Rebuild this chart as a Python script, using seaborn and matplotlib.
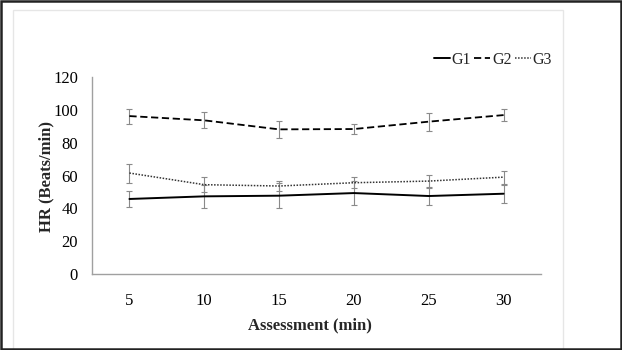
import numpy as np
import pandas as pd
import matplotlib
matplotlib.use("Agg")
import matplotlib.pyplot as plt
from matplotlib.lines import Line2D
from matplotlib.patches import Rectangle
import seaborn as sns

minutes = [5, 10, 15, 20, 25, 30]
groups = ["G1", "G2", "G3"]
g1_mean = [45.7, 47.3, 47.7, 49.3, 47.5, 48.9]
g1_err = [5.0, 7.0, 7.5, 7.5, 5.5, 5.5]
g2_mean = [96.2, 93.6, 88.1, 88.3, 92.8, 96.8]
g2_err = [4.6, 4.9, 5.0, 3.0, 5.4, 3.7]
g3_mean = [61.5, 54.4, 53.6, 55.6, 56.6, 59.0]
g3_err = [5.8, 4.5, 3.0, 3.3, 4.0, 4.0]
yticks = [0, 20, 40, 60, 80, 100, 120]

means = {"G1": g1_mean, "G2": g2_mean, "G3": g3_mean}
errs = {"G1": g1_err, "G2": g2_err, "G3": g3_err}

df = pd.DataFrame({
    "minute": minutes * 3,
    "group": [g for g in groups for _ in minutes],
    "hr": g1_mean + g2_mean + g3_mean,
})

sns.set_theme(style="white")
plt.rcParams["font.family"] = ["Liberation Serif", "DejaVu Serif"]

fig = plt.figure(figsize=(6.22, 3.5), dpi=100)
ax = fig.add_axes([92/622, 1-274/350, (541-92)/622, (274-77)/350])

styles = {
    "G1": dict(color="black", ls="-", lw=1.4),
    "G2": dict(color="black", ls=(0, (4, 2)), lw=1.3),
    "G3": dict(color="#333333", ls=(0, (1, 1)), lw=1.1),
}

for g in groups:
    ax.errorbar(minutes, means[g], yerr=errs[g], fmt="none", ecolor="#8a8a8a",
                elinewidth=0.8, capsize=2.5, capthick=0.8, zorder=1)

for g in groups:
    sub = df[df["group"] == g]
    sns.lineplot(data=sub, x="minute", y="hr", ax=ax, color=styles[g]["color"],
                 linestyle=styles[g]["ls"], linewidth=styles[g]["lw"],
                 errorbar=None, legend=False, zorder=3)

ax.set_xlim(2.5, 32.5)
ax.set_ylim(0, 120)
ax.set_xticks(minutes)
ax.set_xticklabels([str(m) for m in minutes])
ax.set_yticks(yticks)
ax.set_yticklabels([str(v) for v in yticks])
ax.tick_params(axis="both", length=0, labelsize=12, colors="black")
ax.tick_params(axis="x", pad=14)
ax.tick_params(axis="y", pad=10)

for s in ["top", "right"]:
    ax.spines[s].set_visible(False)
for s in ["left", "bottom"]:
    ax.spines[s].set_color("#a0a0a0")
    ax.spines[s].set_linewidth(1.0)

ax.set_xlabel("")
ax.set_ylabel("")
fig.text(310/622, 1-325/350, "Assessment (min)", ha="center", va="center",
         fontsize=12, fontweight="bold")
fig.text(46/622, 1-176/350, "HR (Beats/min)", ha="center", va="center",
         rotation=90, fontsize=12, fontweight="bold")

handles = [Line2D([0], [0], color=styles[g]["color"], linestyle=styles[g]["ls"],
                  linewidth=styles[g]["lw"]) for g in groups]
fig.legend(handles, groups, loc="center right", bbox_to_anchor=(558/622, 1-60/350),
           ncol=3, frameon=False, fontsize=11.5, handlelength=1.0, handletextpad=0.1,
           columnspacing=0.2, borderaxespad=0)

fig.patches.append(Rectangle((13/622, -0.05), (563-13)/622, 1.05 - 10/350,
                             transform=fig.transFigure, fill=False,
                             edgecolor="#e6e6e6", linewidth=1.0))
fig.patches.append(Rectangle((1/622, 1/350), 620/622, 348/350, transform=fig.transFigure,
                             fill=False, edgecolor="#222222", linewidth=1.8))

fig.savefig("out.png", dpi=100)
